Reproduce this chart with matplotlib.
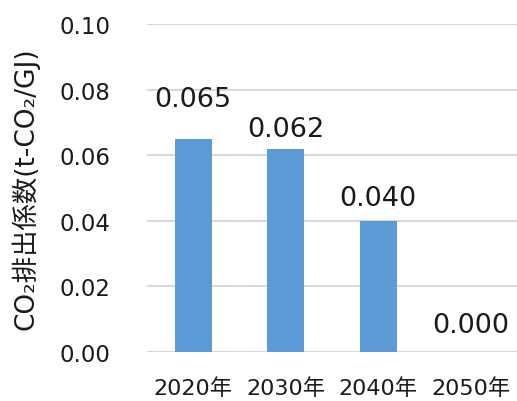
import matplotlib.pyplot as plt

plt.rcParams['font.family'] = ['DejaVu Sans', 'Noto Sans CJK JP']

years = ['2020年', '2030年', '2040年', '2050年']
values = [0.065, 0.062, 0.040, 0.000]
labels = ['0.065', '0.062', '0.040', '0.000']
yticks = [0.00, 0.02, 0.04, 0.06, 0.08, 0.10]

# label lift above each bar (points)
lift = [19, 5, 7, 10]

fig = plt.figure(figsize=(5.17, 4.02), dpi=100)
ax = fig.add_axes([0.284, 0.122, 0.716, 0.816])

x = range(len(years))
ax.bar(x, values, width=0.4, color='#5b9bd5', zorder=3)

for i, v in enumerate(values):
    ax.annotate(labels[i], (i, v), xytext=(0, lift[i]), textcoords='offset points',
                ha='center', va='bottom', fontsize=19.5, color='#1a1a1a')

ax.set_xlim(-0.5, 3.5)
ax.set_ylim(0, 0.1)
ax.set_yticks(yticks)
ax.set_yticklabels([f'{t:.2f}' for t in yticks])
ax.set_xticks(list(x))
ax.set_xticklabels(years)
ax.tick_params(axis='y', length=0, pad=26, labelsize=16.5, labelcolor='#1a1a1a')
ax.tick_params(axis='x', length=0, pad=18, labelsize=16, labelcolor='#1a1a1a')
ax.grid(axis='y', color='#d9d9d9', linewidth=1.5, zorder=0)
for s in ax.spines.values():
    s.set_visible(False)

ax.set_ylabel('CO₂排出係数(t-CO₂/GJ)', fontsize=19, color='#1a1a1a')
ax.yaxis.set_label_coords(-0.29, 0.5)

fig.savefig('out.png', dpi=100)
